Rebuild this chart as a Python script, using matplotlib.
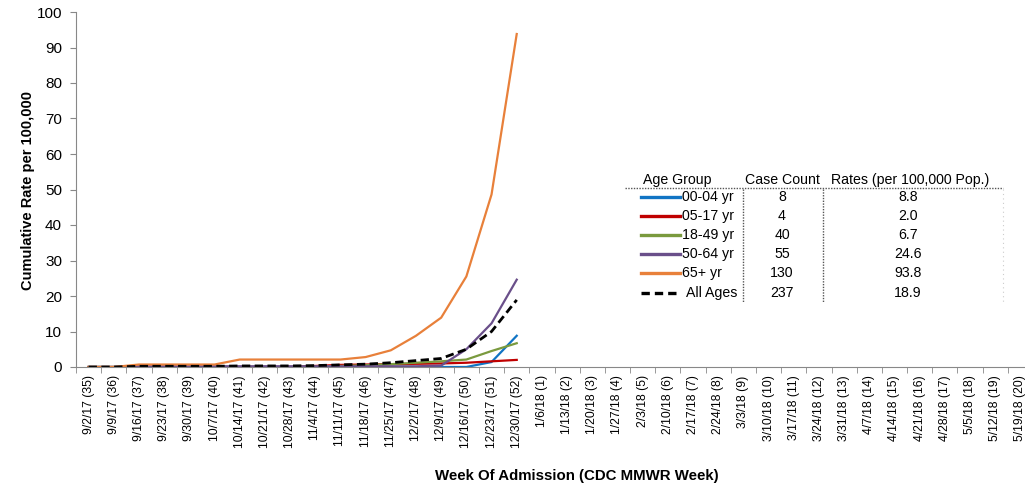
import matplotlib
matplotlib.use("Agg")
import matplotlib.pyplot as plt
from matplotlib.lines import Line2D
import numpy as np

plt.rcParams['font.family'] = ['Liberation Sans', 'DejaVu Sans']

weeks = ["9/2/17 (35)", "9/9/17 (36)", "9/16/17 (37)", "9/23/17 (38)", "9/30/17 (39)",
         "10/7/17 (40)", "10/14/17 (41)", "10/21/17 (42)", "10/28/17 (43)", "11/4/17 (44)",
         "11/11/17 (45)", "11/18/17 (46)", "11/25/17 (47)", "12/2/17 (48)", "12/9/17 (49)",
         "12/16/17 (50)", "12/23/17 (51)", "12/30/17 (52)", "1/6/18 (1)", "1/13/18 (2)",
         "1/20/18 (3)", "1/27/18 (4)", "2/3/18 (5)", "2/10/18 (6)", "2/17/18 (7)",
         "2/24/18 (8)", "3/3/18 (9)", "3/10/18 (10)", "3/17/18 (11)", "3/24/18 (12)",
         "3/31/18 (13)", "4/7/18 (14)", "4/14/18 (15)", "4/21/18 (16)", "4/28/18 (17)",
         "5/5/18 (18)", "5/12/18 (19)", "5/19/18 (20)"]

rate_00_04 = [0, 0, 0, 0, 0, 0, 0, 0, 0, 0, 0, 0, 0, 0, 0, 0, 1.4, 8.8]
rate_05_17 = [0, 0, 0, 0, 0, 0, 0, 0, 0, 0.3, 0.6, 0.7, 0.8, 0.9, 1.0, 1.2, 1.6, 2.0]
rate_18_49 = [0, 0, 0, 0, 0, 0, 0, 0, 0, 0.1, 0.3, 0.5, 0.8, 1.2, 1.6, 2.1, 4.5, 6.7]
rate_50_64 = [0, 0, 0.2, 0.2, 0.2, 0.2, 0.2, 0.2, 0.2, 0.2, 0.2, 0.2, 0.2, 0.2, 0.4, 5.0, 12.3, 24.6]
rate_65_up = [0, 0, 0.7, 0.7, 0.7, 0.7, 2.1, 2.1, 2.1, 2.1, 2.1, 2.8, 4.7, 8.8, 13.9, 25.5, 48.6, 93.8]
rate_all = [0, 0, 0.2, 0.2, 0.2, 0.2, 0.3, 0.3, 0.3, 0.4, 0.6, 0.8, 1.2, 1.8, 2.4, 5.0, 10.0, 18.9]

groups = ["00-04 yr", "05-17 yr", "18-49 yr", "50-64 yr", "65+ yr", "All Ages"]
case_counts = ["8", "4", "40", "55", "130", "237"]
rates_table = ["8.8", "2.0", "6.7", "24.6", "93.8", "18.9"]

series = [rate_00_04, rate_05_17, rate_18_49, rate_50_64, rate_65_up, rate_all]
colors = ['#1074C4', '#C00000', '#7A9A3E', '#6A4F8A', '#E8803A', 'black']
styles = ['-', '-', '-', '-', '-', '--']
widths = [1.6, 1.6, 1.6, 1.6, 1.6, 2.0]

W, H = 1025, 487
fig = plt.figure(figsize=(W / 100, H / 100), dpi=100)
ax = fig.add_axes([76 / W, 1 - 367 / H, 957 / W, 355 / H])

x = np.arange(len(weeks))
for s, c, ls, lw in zip(series, colors, styles, widths):
    line, = ax.plot(x[:len(s)], s, color=c, linestyle=ls, linewidth=lw)
    if ls == '--':
        line.set_dashes((3, 1.6))

ax.set_xlim(-0.5, len(weeks) - 0.5)
ax.set_ylim(0, 100)
ax.set_yticks(np.arange(0, 101, 10))
ax.set_xticks(x)
ax.set_xticklabels(weeks, rotation=90, fontsize=8.8)
ax.set_xticks(np.arange(-0.5, len(weeks), 1), minor=True)
ax.tick_params(axis='x', which='major', length=0, pad=6)
ax.tick_params(axis='x', which='minor', length=4, color='#888888', direction='out')
ax.tick_params(axis='y', length=4, color='#888888', labelsize=11, pad=6)
for sp in ['top', 'right']:
    ax.spines[sp].set_visible(False)
for sp in ['left', 'bottom']:
    ax.spines[sp].set_color('#888888')
fig.text(28 / W, 1 - 190 / H, "Cumulative Rate per 100,000", fontsize=10.5,
         fontweight='bold', ha='center', va='center', rotation=90)
fig.text(577 / W, 1 - 476 / H, "Week Of Admission (CDC MMWR Week)", fontsize=10.8,
         fontweight='bold', ha='center', va='center')

# Legend table
def fx(px):
    return px / W

def fy(py):
    return 1 - py / H

fs = 10.2
fig.text(fx(677), fy(180), "Age Group", fontsize=fs, ha='center', va='center')
fig.text(fx(782), fy(180), "Case Count", fontsize=fs, ha='center', va='center')
fig.text(fx(910), fy(180), "Rates (per 100,000 Pop.)", fontsize=fs, ha='center', va='center')
fig.add_artist(Line2D([fx(625), fx(1003)], [fy(188), fy(188)], color='#555555',
                      linestyle=(0, (1, 1)), linewidth=1))
for vx in [743, 823]:
    fig.add_artist(Line2D([fx(vx), fx(vx)], [fy(189), fy(302)], color='#555555',
                          linestyle=(0, (1, 1)), linewidth=1))
fig.add_artist(Line2D([fx(1003), fx(1003)], [fy(189), fy(302)], color='#cccccc',
                      linestyle=(0, (1, 3)), linewidth=0.8))
row_y = [197, 216, 235, 254, 273, 293]
for ry, g, cc, rt, c, ls in zip(row_y, groups, case_counts, rates_table, colors, styles):
    ln = Line2D([fx(641), fx(680)], [fy(ry), fy(ry)], color=c, linestyle=ls, linewidth=2.4)
    if ls == '--':
        ln.set_dashes((2.5, 1.5))
    fig.add_artist(ln)
    fig.text(fx(682 if ls == '-' else 686), fy(ry), g, fontsize=fs, ha='left', va='center')
    fig.text(fx(782), fy(ry), cc, fontsize=fs, ha='center', va='center')
    fig.text(fx(908), fy(ry), rt, fontsize=fs, ha='center', va='center')

fig.savefig("out.png", dpi=100)
